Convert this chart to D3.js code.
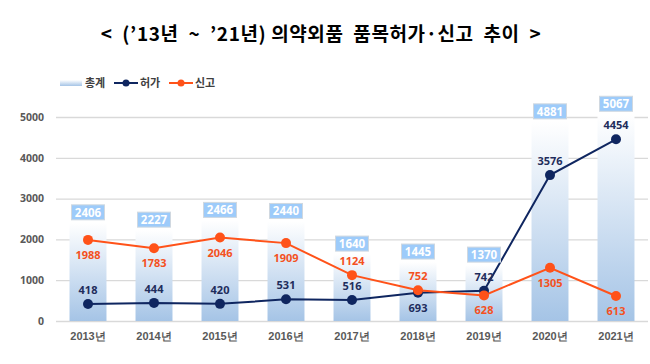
<!DOCTYPE html>
<html><head><meta charset="utf-8">
<script src="https://cdn.jsdelivr.net/npm/d3@7"></script>
<style>
body{margin:0;background:#fff;}
svg{display:block;font-family:"Noto Sans CJK KR","Noto Sans",sans-serif;}
</style></head>
<body>
<svg id="chart" width="650" height="364"></svg>
<script>
const years = ["2013년","2014년","2015년","2016년","2017년","2018년","2019년","2020년","2021년"];
const totals = [2406,2227,2466,2440,1640,1445,1370,4881,5067];
const permits = [418,444,420,531,516,693,742,3576,4454];
const reports = [1988,1783,2046,1909,1124,752,628,1305,613];
const permitLabelPos = ["up","up","up","up","up","down","up","up","up"];
const reportLabelPos = ["down","down","down","down","up","up","down","down","down"];
const yTicks = [0,1000,2000,3000,4000,5000];

const svg = d3.select("#chart");
const x = d3.scaleBand().domain(years).range([55,649]).paddingInner(0.44).paddingOuter(0.22);
const y = d3.scaleLinear().domain([0,5000]).range([321,117]);

const defs = svg.append("defs");
const g = defs.append("linearGradient").attr("id","barGrad").attr("x1",0).attr("y1",0).attr("x2",0).attr("y2",1);
g.append("stop").attr("offset","0%").attr("stop-color","#ffffff");
g.append("stop").attr("offset","100%").attr("stop-color","#a5c4e6");
const lg = defs.append("linearGradient").attr("id","legGrad").attr("x1",0).attr("y1",0).attr("x2",0).attr("y2",1);
lg.append("stop").attr("offset","0%").attr("stop-color","#ffffff");
lg.append("stop").attr("offset","100%").attr("stop-color","#a5c4e6");

// title
svg.append("text").attr("x",321).attr("y",41).attr("text-anchor","middle")
  .attr("font-size",19).attr("font-weight","bold").attr("fill","#000")
  .attr("letter-spacing",0.6)
  .style("white-space","pre").attr("xml:space","preserve")
  .text("<  (’13년  ~  ’21년) 의약외품  품목허가·신고  추이  >");

// grid
const yAxis = svg.append("g").attr("transform","translate(56,0)")
  .call(d3.axisLeft(y).tickValues(yTicks).tickSize(-592).tickFormat(d3.format("d")).tickPadding(12));
yAxis.select(".domain").remove();
yAxis.selectAll(".tick line").attr("stroke","#d9d9d9").attr("stroke-width",1.3);
yAxis.selectAll(".tick text").attr("fill","#595959").attr("font-size",10.5).attr("font-weight","bold")
  .attr("font-family","'Noto Sans',sans-serif");

// bars
svg.append("g").selectAll("rect").data(years).join("rect")
  .attr("x",d=>x(d)).attr("width",x.bandwidth())
  .attr("y",(d,i)=>y(totals[i])).attr("height",(d,i)=>y(0)-y(totals[i]))
  .attr("fill","url(#barGrad)");

// x axis
const xAxis = svg.append("g").attr("transform","translate(0,321)")
  .call(d3.axisBottom(x).tickSize(0).tickPadding(11));
xAxis.select(".domain").remove();
xAxis.selectAll(".tick text").attr("fill","#595959").attr("font-size",11).attr("font-weight","bold");

// lines
const lineGen = d3.line().x((d,i)=>x(years[i])+x.bandwidth()/2).y(d=>y(d));
const navy = "#0f2660", orange = "#ff5219";
svg.append("path").datum(permits).attr("d",lineGen).attr("fill","none").attr("stroke",navy).attr("stroke-width",2);
svg.append("path").datum(reports).attr("d",lineGen).attr("fill","none").attr("stroke",orange).attr("stroke-width",2);
svg.append("g").selectAll("circle").data(permits).join("circle")
  .attr("cx",(d,i)=>x(years[i])+x.bandwidth()/2).attr("cy",d=>y(d)).attr("r",5).attr("fill",navy);
svg.append("g").selectAll("circle").data(reports).join("circle")
  .attr("cx",(d,i)=>x(years[i])+x.bandwidth()/2).attr("cy",d=>y(d)).attr("r",5).attr("fill",orange);

// labels
svg.append("g").selectAll("text").data(permits).join("text")
  .attr("x",(d,i)=>x(years[i])+x.bandwidth()/2)
  .attr("y",(d,i)=>permitLabelPos[i]==="up"? y(d)-10 : y(d)+19)
  .attr("text-anchor","middle").attr("font-size",11).attr("font-weight","bold").attr("fill","#1f2d5c")
  .attr("font-family","'Noto Sans',sans-serif").text(d=>d);
svg.append("g").selectAll("text").data(reports).join("text")
  .attr("x",(d,i)=>x(years[i])+x.bandwidth()/2)
  .attr("y",(d,i)=>reportLabelPos[i]==="up"? y(d)-10 : y(d)+19)
  .attr("text-anchor","middle").attr("font-size",11).attr("font-weight","bold").attr("fill","#f4511e")
  .attr("font-family","'Noto Sans',sans-serif").text(d=>d);

// total labels
const tl = svg.append("g").selectAll("g").data(totals).join("g")
  .attr("transform",(d,i)=>`translate(${x(years[i])+x.bandwidth()/2},${y(d)-3})`);
tl.append("rect").attr("x",-16.5).attr("y",-15).attr("width",33).attr("height",15)
  .attr("fill","#9dcbfa").attr("stroke","#d0d8e0").attr("stroke-width",1);
tl.append("text").attr("y",-3).attr("text-anchor","middle").attr("font-size",11.5).attr("font-weight","bold")
  .attr("fill","#fff").attr("font-family","'Noto Sans',sans-serif").text(d=>d);

// legend
const leg = svg.append("g").attr("transform","translate(0,83)");
leg.append("rect").attr("x",60).attr("y",-3).attr("width",22).attr("height",6).attr("fill","url(#legGrad)");
leg.append("text").attr("x",85).attr("y",4).attr("font-size",11).attr("font-weight","bold").attr("fill","#404040").text("총계");
leg.append("line").attr("x1",114).attr("x2",138).attr("y1",0).attr("y2",0).attr("stroke",navy).attr("stroke-width",2);
leg.append("circle").attr("cx",126).attr("cy",0).attr("r",3.5).attr("fill",navy);
leg.append("text").attr("x",140).attr("y",4).attr("font-size",11).attr("font-weight","bold").attr("fill","#404040").text("허가");
leg.append("line").attr("x1",169).attr("x2",193).attr("y1",0).attr("y2",0).attr("stroke",orange).attr("stroke-width",2);
leg.append("circle").attr("cx",181).attr("cy",0).attr("r",3.5).attr("fill",orange);
leg.append("text").attr("x",195).attr("y",4).attr("font-size",11).attr("font-weight","bold").attr("fill","#404040").text("신고");
</script>
</body></html>
